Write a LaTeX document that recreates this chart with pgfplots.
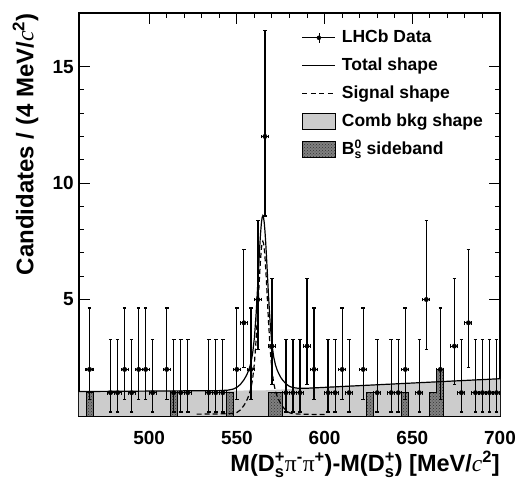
\documentclass[border=0pt]{standalone}
\usepackage{fontspec}
\setmainfont{Liberation Sans}
\newfontfamily\serifont{Liberation Serif}
\usepackage{amsmath}
\usepackage{pgfplots}
\usepackage{pgfplotstable}
\pgfplotsset{compat=1.18}
\usetikzlibrary{patterns}

\newcommand{\supsub}[2]{\ensuremath{^{\text{#1}}_{\text{#2}}}}
\newcommand{\cc}{{\serifont\mdseries\itshape c}}
\newcommand{\ppi}{{\serifont\mdseries π}}

% data: bin centre, count, Poisson errors
\pgfplotstableread{
x y em ep
466 2 1.292 2.638
478 1 0.827 2.300
482 1 0.827 2.300
486 2 1.292 2.638
490 1 0.827 2.300
494 2 1.292 2.638
498 2 1.292 2.638
502 1 0.827 2.300
510 2 1.292 2.638
514 1 0.827 2.300
518 1 0.827 2.300
522 1 0.827 2.300
534 1 0.827 2.300
538 1 0.827 2.300
542 1 0.827 2.300
550 2 1.292 2.638
554 4 1.914 3.162
558 2 1.292 2.638
562 5 2.159 3.382
566 12 3.415 4.531
570 3 1.633 2.918
578 1 0.827 2.300
582 1 0.827 2.300
586 1 0.827 2.300
590 3 1.633 2.918
594 2 1.292 2.638
602 1 0.827 2.300
606 1 0.827 2.300
610 2 1.292 2.638
614 1 0.827 2.300
622 2 1.292 2.638
630 1 0.827 2.300
638 1 0.827 2.300
642 1 0.827 2.300
646 2 1.292 2.638
654 1 0.827 2.300
658 5 2.159 3.382
666 2 1.292 2.638
674 3 1.633 2.918
678 1 0.827 2.300
682 4 1.914 3.162
686 1 0.827 2.300
690 1 0.827 2.300
694 1 0.827 2.300
698 1 0.827 2.300
}\datatab

\pgfplotstableread{
x y
460 1.05
500 1.07
530 1.085
540 1.09
545 1.11
548 1.158
550 1.23
552 1.356
554 1.55
555 1.68
556 1.83
557 2.02
558 2.28
559 2.70
560 3.37
561 4.41
562 5.79
563 7.23
563.5 7.84
564 8.30
564.4 8.52
564.8 8.60
565.2 8.52
565.6 8.30
566 7.95
566.5 7.37
567 6.68
568 5.22
569 3.96
570 3.08
571 2.53
572 2.19
573 1.97
574 1.80
575 1.66
576 1.55
578 1.38
580 1.27
582 1.22
585 1.19
590 1.192
600 1.229
650 1.415
700 1.60
}\totaltab

\pgfplotstableread{
x y
527 0.08
531 0.08
535 0.09
540 0.09
545 0.10
548 0.12
550 0.15
552 0.26
554 0.45
555 0.58
556 0.73
557 0.92
558 1.18
559 1.60
560 2.27
561 3.31
562 4.69
563 6.13
563.5 6.74
564 7.20
564.4 7.42
564.8 7.50
565.2 7.42
565.6 7.20
566 6.85
566.5 6.26
567 5.57
568 4.11
569 2.85
570 1.96
571 1.41
572 1.07
573 0.84
574 0.67
575 0.53
576 0.41
578 0.24
580 0.14
582 0.10
586 0.08
592 0.07
600 0.06
}\signaltab

\pgfplotstableread{
x y
460 1.05
565 1.10
576 1.14
700 1.60
}\combtab

\pgfplotstableread{
x y
460 0
464 1
468 0
512 1
516 0
544 1
548 0
568 1
576 0
624 1
628 0
644 1
648 0
660 1
664 2
668 0
700 0
}\sbtab

\begin{document}
\begin{tikzpicture}
\begin{axis}[
  at={(0pt,0pt)}, anchor=south west,
  scale only axis, width=421pt, height=403pt,
  xmin=460, xmax=700, ymin=0, ymax=17.3,
  xtick={500,550,600,650,700}, minor x tick num=4,
  ytick={5,10,15}, minor y tick num=4,
  major tick length=11pt, minor tick length=5.5pt,
  tick style={line width=1pt, black},
  axis line style={line width=1.2pt},
  /pgf/number format/assume math mode=true,
  /pgf/number format/1000 sep={},
  yticklabel style={font=\fontsize{19}{19}\selectfont\bfseries, inner sep=0pt, xshift=-5pt},
  xticklabel style={font=\fontsize{19}{19}\selectfont\bfseries, inner sep=0pt, yshift=-15pt},
  xlabel={M(D\supsub{+}{s}\ppi\supsub{-}{}\ppi\supsub{+}{})-M(D\supsub{+}{s}) [MeV/\cc\supsub{2}{}]},
  ylabel={Candidates / (4 MeV/\cc\supsub{2}{})},
  xlabel style={font=\fontsize{23.5}{24}\selectfont\bfseries, inner sep=0pt,
     at={(rel axis cs:1,-0.138)}, anchor=base east},
  ylabel style={font=\fontsize{24}{24}\selectfont\bfseries, inner sep=0pt,
     at={(rel axis cs:-0.158,1.0)}, anchor=north east, rotate=0},
  legend cell align=left,
  legend style={at={(rel axis cs:0.529,0.96)}, anchor=north west, draw=none, fill=none,
     font=\fontsize{17.5}{17.5}\selectfont\bfseries, inner sep=0pt, row sep=11pt,
     nodes={inner xsep=0pt, inner ysep=0pt, text height=13pt, text depth=4pt},
     /tikz/every odd column/.append style={column sep=6pt}},
]
\addplot[fill=black!20, draw=none, forget plot] table[x=x,y=y]{\combtab} \closedcycle;
\addplot[const plot, draw=black, line width=0.8pt, fill=black!50,
   postaction={pattern=crosshatch dots, pattern color=black!80}, forget plot]
   table[x=x,y=y]{\sbtab} \closedcycle;
\addplot[black, line width=1.2pt, forget plot] table[x=x,y=y]{\totaltab};
\addplot[black, line width=1.2pt, dash pattern=on 5pt off 3pt, forget plot] table[x=x,y=y]{\signaltab};
\addplot[only marks, mark=*, mark size=2.2pt, black, forget plot,
   error bars/.cd, y dir=both, y explicit, x dir=both, x fixed=2,
   error bar style={line width=1.2pt, black},
   error mark options={rotate=90, mark size=1.8pt, line width=1.1pt, black}]
   table[x=x,y=y,y error plus=ep,y error minus=em]{\datatab};

\addlegendimage{legend image code/.code={
   \draw[line width=0.8pt] (0pt,0pt) -- (33pt,0pt);
   \draw[line width=0.8pt] (16.5pt,-5pt) -- (16.5pt,5pt);
   \fill (16.5pt,0pt) circle (2pt);}}
\addlegendentry{LHCb Data}
\addlegendimage{legend image code/.code={
   \draw[line width=1pt] (0pt,0pt) -- (33pt,0pt);}}
\addlegendentry{Total shape}
\addlegendimage{legend image code/.code={
   \draw[line width=1pt, dash pattern=on 5pt off 3.5pt] (0pt,0pt) -- (33pt,0pt);}}
\addlegendentry{Signal shape}
\addlegendimage{legend image code/.code={
   \draw[line width=1pt, fill=black!20] (0pt,-8pt) rectangle (33pt,8pt);}}
\addlegendentry{Comb bkg shape}
\addlegendimage{legend image code/.code={
   \draw[line width=1pt, fill=black!50, postaction={pattern=crosshatch dots, pattern color=black!80}] (0pt,-8pt) rectangle (33pt,8pt);}}
\addlegendentry{B\supsub{0}{s} sideband}
\end{axis}
\path[use as bounding box] (-79pt,-66pt) rectangle (438pt,416pt);
\end{tikzpicture}
\end{document}
